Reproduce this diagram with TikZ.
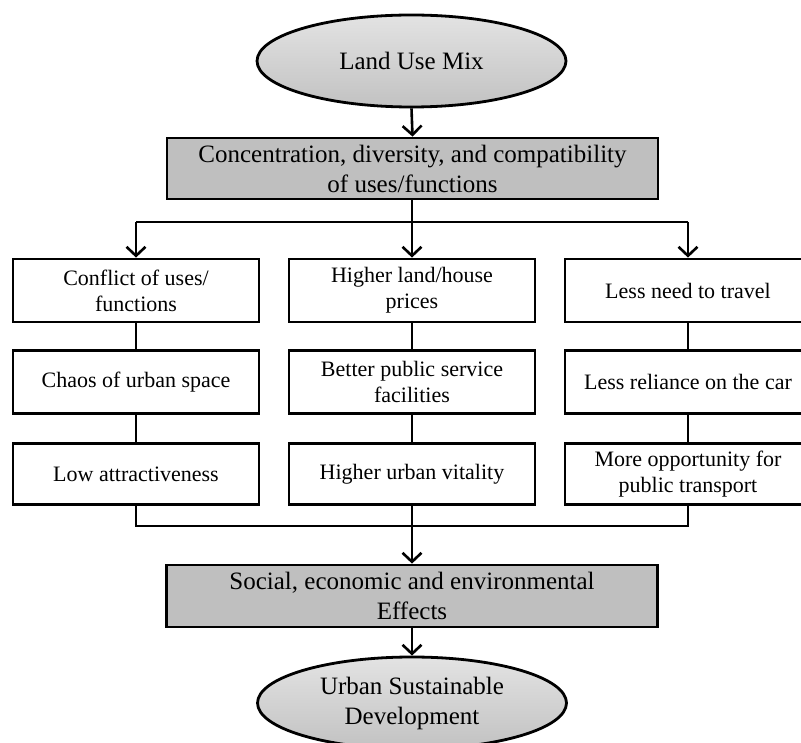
\documentclass[tikz,border=0pt]{standalone}
\usepackage{fontspec}
\setmainfont{Liberation Serif}
\usetikzlibrary{shapes.geometric,arrows.meta}
\begin{document}
\begin{tikzpicture}[x=1pt,y=-1pt,
  oval/.style={ellipse,draw=black,line width=2.8pt,top color=black!11,bottom color=black!24,
    minimum width=309pt,minimum height=92pt,inner sep=0pt,align=center,
    font=\fontsize{25}{30}\selectfont},
  graybox/.style={rectangle,draw=black,line width=2.8pt,fill=black!25,
    minimum width=491pt,minimum height=61pt,inner sep=0pt,align=center,
    font=\fontsize{25}{30}\selectfont},
  colbox/.style={rectangle,draw=black,line width=2.8pt,fill=white,
    minimum width=246pt,minimum height=63pt,inner sep=0pt,align=center,
    font=\fontsize{22}{26}\selectfont},
  conn/.style={line width=2.6pt},
  arr/.style={conn,-{Straight Barb[length=9pt,width=19pt]}}
]
\useasboundingbox (0,0) rectangle (801,743);
\clip (0,0) rectangle (801,743);
\fill[white] (0,0) rectangle (801,743);

\node[oval] (mix) at (411.5,61) {Land Use Mix};
\node[graybox] (conc) at (412.5,168.5) {Concentration, diversity, and compatibility\\of uses/functions};

\node[colbox] (a1) at (136,290.5) {Conflict of uses/\\functions};
\node[colbox] (b1) at (412,290.5) {Higher land/house\\prices};
\node[colbox] (c1) at (688,290.5) {Less need to travel};

\node[colbox] (a2) at (136,382) {Chaos of urban space};
\node[colbox] (b2) at (412,382) {Better public service\\facilities};
\node[colbox] (c2) at (688,382) {Less reliance on the car};

\node[colbox,minimum height=61pt] (a3) at (136,474) {Low attractiveness};
\node[colbox,minimum height=61pt] (b3) at (412,474) {Higher urban vitality};
\node[colbox,minimum height=61pt] (c3) at (688,474) {More opportunity for\\public transport};

\node[graybox,minimum height=62pt] (soc) at (412,596) {Social, economic and environmental\\Effects};
\node[oval] (usd) at (412,703) {Urban Sustainable\\Development};

\coordinate (tl) at (136,222);
\coordinate (tr) at (688,222);
\coordinate (bl) at (136,526);
\coordinate (br) at (688,526);
\coordinate (bm) at (412,526);

\draw[arr] (mix.south) -- (conc.north);
\draw[conn] (tl) -- (tr);
\draw[arr] (conc.south -| b1.north) -- (b1.north);
\draw[arr] (tl) -- (a1.north);
\draw[arr] (tr) -- (c1.north);

\draw[conn] (a1) -- (a2) (a2) -- (a3);
\draw[conn] (b1) -- (b2) (b2) -- (b3);
\draw[conn] (c1) -- (c2) (c2) -- (c3);

\draw[conn] (a3.south) -- (bl) -- (br) -- (c3.south);
\draw[conn] (b3.south) -- (bm);
\draw[arr] (bm) -- (soc.north);
\draw[arr] (soc.south) -- (usd.north);
\end{tikzpicture}
\end{document}
